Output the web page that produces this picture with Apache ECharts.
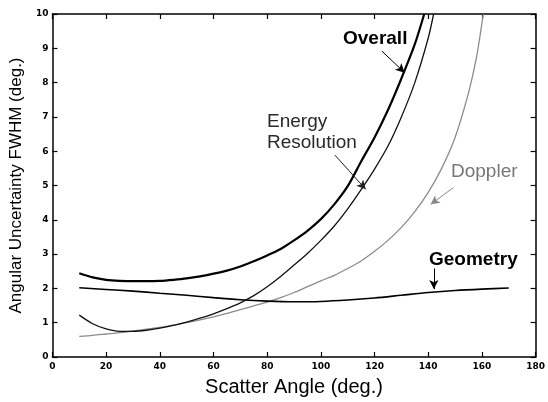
<!DOCTYPE html>
<html><head><meta charset="utf-8">
<script src="https://cdn.jsdelivr.net/npm/echarts@6/dist/echarts.min.js"></script>
<style>html,body{margin:0;padding:0;background:#fff}#c{width:548px;height:402px}</style>
</head><body><div id="c"></div>
<script>
// ---- data ----
const overallAngle = [10,15,20,25,30,35,40,45,50,55,60,65,70,75,80,85,90,95,100,105,110,115,120,125,130,135,138.5];
const overallFwhm  = [2.44,2.32,2.25,2.22,2.21,2.21,2.22,2.25,2.29,2.35,2.43,2.52,2.64,2.79,2.96,3.15,3.4,3.68,4.02,4.45,4.98,5.7,6.4,7.2,8.12,9.12,10];

const energyAngle = [10,15,20,25,30,35,40,45,50,55,60,65,70,75,80,85,90,95,100,105,110,115,120,125,130,135,140,142];
const energyFwhm  = [1.22,0.97,0.82,0.75,0.75,0.78,0.84,0.92,1.02,1.13,1.26,1.41,1.58,1.79,2.05,2.35,2.68,3.02,3.4,3.82,4.32,4.88,5.48,6.15,7.0,8.0,9.3,10];

const dopplerAngle = [10,15,20,25,30,35,40,45,50,55,60,65,70,75,80,85,90,95,100,105,110,115,120,125,130,135,140,145,150,155,158,160.5];
const dopplerFwhm  = [0.6,0.63,0.67,0.71,0.76,0.81,0.86,0.93,1.0,1.08,1.17,1.27,1.38,1.49,1.6,1.73,1.88,2.05,2.22,2.38,2.58,2.8,3.08,3.4,3.78,4.24,4.8,5.5,6.4,7.7,8.75,10];

const geometryAngle = [10,20,30,40,50,60,70,80,90,100,110,120,130,140,150,160,170];
const geometryFwhm  = [2.02,1.97,1.92,1.86,1.8,1.73,1.67,1.63,1.61,1.62,1.66,1.72,1.8,1.88,1.94,1.98,2.01];

const xTicks = [0,20,40,60,80,100,120,140,160,180];
const yTicks = [0,1,2,3,4,5,6,7,8,9,10];

// annotation arrows (data coordinates: [from], [to])
const arrowOverall  = [[122.7, 8.92], [131.2, 8.29]];
const arrowEnergy   = [[105.2, 5.89], [116.7, 4.89]];
const arrowDoppler  = [[149.4, 4.94], [140.9, 4.45]];
const arrowGeometry = [[142.1, 2.58], [142.1, 1.98]];

const zip = (a, b) => a.map((v, i) => [v, b[i]]);

const chart = echarts.init(document.getElementById('c'), null, {renderer: 'canvas'});
const tickFont = {fontFamily: 'DejaVu Sans', fontWeight: 'bold', fontSize: 9, color: '#000'};
const axisLine = {show: true, onZero: false, lineStyle: {color: '#000', width: 1.5}};
const axisTick = {show: true, inside: true, length: 5, lineStyle: {color: '#000', width: 1.2}};

function arrow(pts, color) {
  return [{coord: pts[0], lineStyle: {color: color}}, {coord: pts[1]}];
}

chart.setOption({
  animation: false,
  backgroundColor: '#fff',
  grid: {left: 45, right: 7, top: 14, bottom: 40, containLabel: false},
  xAxis: [
    {type: 'value', min: 0, max: 180, interval: 20, position: 'bottom',
     axisLine: axisLine, axisTick: axisTick, splitLine: {show: false},
     axisLabel: Object.assign({margin: 5, formatter: v => xTicks.includes(v) ? String(v) : ''}, tickFont),
     name: 'Scatter Angle (deg.)', nameLocation: 'middle', nameGap: 20,
     nameTextStyle: {fontFamily: 'Liberation Sans', fontSize: 20, color: '#000'}},
    {type: 'value', min: 0, max: 180, interval: 20, position: 'top',
     axisLine: axisLine, axisTick: axisTick, splitLine: {show: false}, axisLabel: {show: false}}
  ],
  yAxis: [
    {type: 'value', min: 0, max: 10, interval: 1, position: 'left',
     axisLine: axisLine, axisTick: axisTick, splitLine: {show: false},
     axisLabel: Object.assign({margin: 4, formatter: v => yTicks.includes(v) ? String(v) : ''}, tickFont),
     name: 'Angular Uncertainty FWHM (deg.)', nameLocation: 'middle', nameGap: 14,
     nameTextStyle: {fontFamily: 'Liberation Sans', fontSize: 17, color: '#000'}},
    {type: 'value', min: 0, max: 10, interval: 1, position: 'right',
     axisLine: axisLine, axisTick: axisTick, splitLine: {show: false}, axisLabel: {show: false}}
  ],
  series: [
    {name: 'Doppler', type: 'line', data: zip(dopplerAngle, dopplerFwhm), smooth: 0.3, showSymbol: false,
     lineStyle: {color: '#8c8c8c', width: 1.3}, z: 2},
    {name: 'Geometry', type: 'line', data: zip(geometryAngle, geometryFwhm), smooth: 0.3, showSymbol: false,
     lineStyle: {color: '#000', width: 1.6}, z: 3},
    {name: 'Energy Resolution', type: 'line', data: zip(energyAngle, energyFwhm), smooth: 0.3, showSymbol: false,
     lineStyle: {color: '#111', width: 1.3}, z: 3},
    {name: 'Overall', type: 'line', data: zip(overallAngle, overallFwhm), smooth: 0.3, showSymbol: false,
     lineStyle: {color: '#000', width: 2.2}, z: 4,
     markLine: {silent: true, symbol: ['none', 'arrow'], symbolSize: [7, 9], animation: false,
       label: {show: false}, lineStyle: {type: 'solid', width: 1, color: '#000'},
       data: [arrow(arrowOverall, '#000'), arrow(arrowEnergy, '#222'), arrow(arrowDoppler, '#888'), arrow(arrowGeometry, '#000')]}}
  ],
  graphic: [
    {type: 'text', left: 343, top: 29, style: {text: 'Overall', font: 'bold 19px "Liberation Sans"', fill: '#000'}},
    {type: 'text', left: 267, top: 111, style: {text: 'Energy\nResolution', font: '19px "Liberation Sans"', lineHeight: 21, fill: '#2a2a2a'}},
    {type: 'text', left: 451, top: 162, style: {text: 'Doppler', font: '19px "Liberation Sans"', fill: '#777'}},
    {type: 'text', left: 429, top: 250, style: {text: 'Geometry', font: 'bold 19px "Liberation Sans"', fill: '#000'}}
  ]
});
</script></body></html>
